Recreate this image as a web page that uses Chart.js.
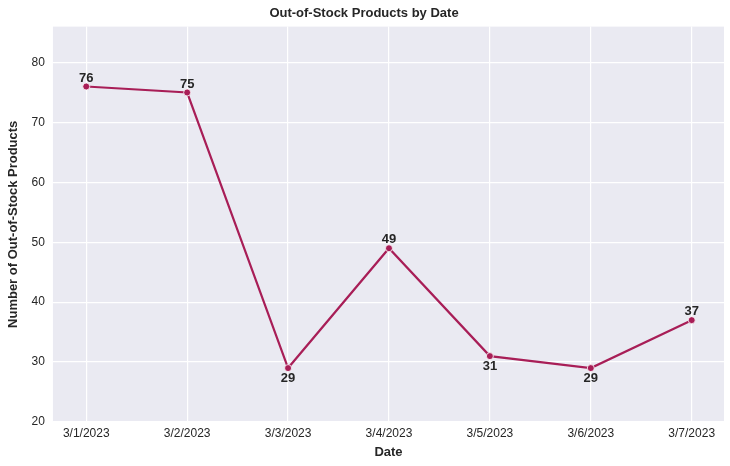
<!DOCTYPE html>
<html><head><meta charset="utf-8">
<script src="https://cdn.jsdelivr.net/npm/chart.js@4"></script>
<style>html,body{margin:0;background:#fff}#wrap{width:730px;height:466px}</style>
</head><body><div id="wrap"><canvas id="c"></canvas></div>
<script>
const dates = ['3/1/2023','3/2/2023','3/3/2023','3/4/2023','3/5/2023','3/6/2023','3/7/2023'];
const outOfStock = [76, 75, 29, 49, 31, 29, 37];
const labelBelow = [false, false, true, false, true, true, false];
const yTicks = [20, 30, 40, 50, 60, 70, 80];

const lineColor = '#A81E57';
const fam = '"Liberation Sans", Arial, sans-serif';

const bgPlugin = {
  id: 'bg',
  beforeDraw(chart) {
    const a = chart.chartArea, ctx = chart.ctx;
    ctx.save(); ctx.fillStyle = '#EAEAF2';
    ctx.fillRect(a.left, a.top, a.right - a.left, a.bottom - a.top);
    ctx.restore();
  }
};
const labelPlugin = {
  id: 'vals',
  afterDatasetsDraw(chart) {
    const ctx = chart.ctx, x = chart.scales.x, y = chart.scales.y;
    ctx.save();
    ctx.font = 'bold 13px ' + fam;
    ctx.fillStyle = '#262626'; ctx.textAlign = 'center';
    outOfStock.forEach((v, i) => {
      const px = x.getPixelForValue(i), py = y.getPixelForValue(v);
      if (labelBelow[i]) { ctx.textBaseline = 'top'; ctx.fillText(v, px, py + 4); }
      else { ctx.textBaseline = 'bottom'; ctx.fillText(v, px, py - 2); }
    });
    ctx.restore();
  }
};

new Chart(document.getElementById('c'), {
  type: 'line',
  data: { datasets: [{
    data: outOfStock.map((v, i) => ({ x: i, y: v })),
    borderColor: lineColor, backgroundColor: lineColor,
    borderWidth: 2.2, pointRadius: 3.5, pointBorderColor: '#fff', pointBorderWidth: 0.8,
    tension: 0
  }]},
  options: {
    responsive: true, maintainAspectRatio: false, animation: false,
    layout: { padding: { left: 4, right: 6, top: 0, bottom: 6 } },
    plugins: {
      legend: { display: false }, tooltip: { enabled: false },
      title: { display: true, text: 'Out-of-Stock Products by Date', color: '#262626',
        font: { family: fam, size: 13, weight: 'bold' }, padding: { top: 6, bottom: 5 } }
    },
    scales: {
      x: { type: 'linear', min: -0.33, max: 6.32,
        afterBuildTicks: s => { s.ticks = dates.map((d, i) => ({ value: i })); },
        ticks: { callback: v => dates[v], color: '#262626', font: { family: fam, size: 12 }, autoSkip: false, maxRotation: 0, padding: 4 },
        grid: { color: '#fff', lineWidth: 1.2, drawTicks: false }, border: { display: false },
        title: { display: true, text: 'Date', color: '#262626', font: { family: fam, size: 13, weight: 'bold' }, padding: 0 }
      },
      y: { min: 20, max: 86,
        afterBuildTicks: s => { s.ticks = yTicks.map(v => ({ value: v })); },
        ticks: { color: '#262626', font: { family: fam, size: 12 }, padding: 8 },
        grid: { color: '#fff', lineWidth: 1.2, drawTicks: false }, border: { display: false },
        title: { display: true, text: 'Number of Out-of-Stock Products', color: '#262626', font: { family: fam, size: 13, weight: 'bold' }, padding: 2 }
      }
    }
  },
  plugins: [bgPlugin, labelPlugin]
});
</script></body></html>
